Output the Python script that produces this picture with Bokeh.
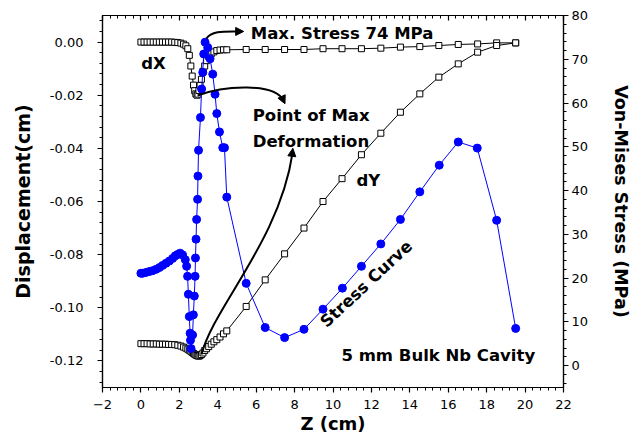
from bokeh.plotting import figure
from bokeh.models import (Range1d, LinearAxis, SingleIntervalTicker, PrintfTickFormatter,
                          Label, Arrow, NormalHead)
from bokeh.embed import file_html
from bokeh.resources import INLINE

# ---------------- data ----------------
disp_z = [0.00, 0.16, 0.32, 0.48, 0.64, 0.80, 0.96, 1.12, 1.28, 1.44, 1.60, 1.76, 1.92, 2.08,
          2.22, 2.34, 2.44, 2.52, 2.60, 2.67, 2.74, 2.80, 2.86, 2.92, 2.97, 3.02, 3.08, 3.15,
          3.23, 3.32, 3.42, 3.53, 3.66, 3.80, 3.95, 4.12, 4.30, 4.47, 5.48, 6.47, 7.48, 8.49,
          9.48, 10.47, 11.48, 12.49, 13.51, 14.52, 15.51, 16.52, 17.53, 18.52, 19.51]

dX = [0.0000, 0.0000, 0.0000, 0.0000, 0.0000, 0.0000, 0.0000, 0.0000, 0.0000, 0.0000, 0.0000,
      -0.0001, -0.0002, -0.0004, -0.0008, -0.0014, -0.0025, -0.0050, -0.0090, -0.0128, -0.0162,
      -0.0183, -0.0195, -0.0200, -0.0196, -0.0182, -0.0163, -0.0140, -0.0110, -0.0090, -0.0070,
      -0.0055, -0.0044, -0.0037, -0.0032, -0.0030, -0.0029, -0.0029, -0.0028, -0.0028, -0.0028,
      -0.0028, -0.0025, -0.0025, -0.0025, -0.0023, -0.0019, -0.0017, -0.0013, -0.0009, -0.0007,
      -0.0003, -0.0003]

dY = [-0.1135, -0.1135, -0.1135, -0.1136, -0.1136, -0.1136, -0.1137, -0.1137, -0.1137, -0.1138,
      -0.1138, -0.1139, -0.1141, -0.1144, -0.1148, -0.1152, -0.1156, -0.1160, -0.1164, -0.1168,
      -0.1172, -0.1175, -0.1178, -0.1180, -0.1181, -0.1182, -0.1180, -0.1176, -0.1170, -0.1161,
      -0.1154, -0.1146, -0.1137, -0.1128, -0.1120, -0.1110, -0.1098, -0.1087, -0.0995, -0.0895,
      -0.0797, -0.0700, -0.0600, -0.0514, -0.0424, -0.0343, -0.0264, -0.0195, -0.0132, -0.0082,
      -0.0038, -0.0013, -0.0003]

stress_z = [0.00, 0.09, 0.27, 0.44, 0.61, 0.79, 0.96, 1.13, 1.31, 1.48, 1.65, 1.79, 1.91, 2.04,
            2.17, 2.31, 2.38, 2.43, 2.47, 2.52, 2.56, 2.58, 2.61, 2.69, 2.73, 2.78, 2.82, 2.84,
            2.87, 2.90, 2.95, 2.97, 3.00, 3.10, 3.16, 3.22, 3.27, 3.34, 3.48, 3.60, 3.74, 3.86,
            3.95, 4.09, 4.26, 4.35, 4.47, 5.48, 6.47, 7.48, 8.49, 9.48, 10.49, 11.48, 12.49,
            13.51, 14.52, 15.53, 16.52, 17.51, 18.52, 19.51]

stress = [21.1, 21.1, 21.3, 21.5, 21.7, 22.0, 22.4, 22.9, 23.4, 23.9, 24.5, 25.1, 25.4, 25.7,
          25.3, 24.2, 22.7, 20.4, 16.3, 11.2, 7.4, 5.8, 3.9, 7.0, 11.6, 15.9, 20.4, 24.6, 28.9,
          33.4, 38.0, 43.3, 49.2, 56.7, 63.2, 67.0, 71.2, 73.9, 72.7, 70.1, 66.6, 62.0, 57.6,
          53.4, 49.8, 49.8, 38.5, 18.8, 8.7, 6.4, 8.3, 12.9, 17.7, 22.7, 27.8, 33.4, 39.7, 45.8,
          51.1, 49.7, 33.2, 8.5]

FONT = "DejaVu Sans"
BLUE = "#0000ff"

p = figure(width=636, height=438, output_backend="svg", toolbar_location=None,
           x_range=Range1d(-2, 22), y_range=Range1d(-0.13, 0.01),
           x_axis_location=None, y_axis_location=None,
           min_border_left=102, min_border_right=73, min_border_top=15, min_border_bottom=51)
p.extra_y_ranges = {"stress": Range1d(-5, 80)}
p.grid.visible = False
p.outline_line_color = "black"
p.outline_line_width = 1.2
p.background_fill_color = "white"
p.border_fill_color = "white"


def style(ax, inward=False):
    ax.axis_line_width = 1.2
    ax.major_tick_line_width = 1.2
    ax.minor_tick_line_width = 1
    if inward:
        ax.major_tick_in, ax.major_tick_out = 5, 0
        ax.minor_tick_in, ax.minor_tick_out = 3, 0
    else:
        ax.major_tick_in, ax.major_tick_out = 0, 5
        ax.minor_tick_in, ax.minor_tick_out = 0, 3
    ax.major_label_text_font = FONT
    ax.major_label_text_font_size = "13px"
    ax.major_label_text_color = "black"
    ax.axis_label_text_font = FONT
    ax.axis_label_text_font_size = "18px"
    ax.axis_label_text_font_style = "bold"
    ax.axis_label_text_color = "black"


xb = LinearAxis(ticker=SingleIntervalTicker(interval=2, num_minor_ticks=5),
                axis_label="Z (cm)")
style(xb)
xb.major_label_standoff = 7
xb.axis_label_standoff = 1
p.add_layout(xb, "below")

xt = LinearAxis(ticker=SingleIntervalTicker(interval=2, num_minor_ticks=5))
style(xt, inward=True)
xt.major_label_text_font_size = "8px"
xt.major_label_text_color = None
xt.major_label_standoff = 0
p.add_layout(xt, "above")

yl = LinearAxis(ticker=SingleIntervalTicker(interval=0.02, num_minor_ticks=5),
                formatter=PrintfTickFormatter(format="%.2f"),
                axis_label="Displacement(cm)")
style(yl)
yl.axis_label_text_font_size = "19px"
yl.major_label_standoff = 14
yl.axis_label_standoff = 13
p.add_layout(yl, "left")

yr = LinearAxis(y_range_name="stress",
                ticker=SingleIntervalTicker(interval=10, num_minor_ticks=5),
                axis_label="Von-Mises Stress (MPa)")
style(yr)
yr.axis_label_text_font_size = "17.5px"
yr.major_label_standoff = 3
yr.axis_label_standoff = 20
p.add_layout(yr, "right")

# ---------------- data marks ----------------
p.line(disp_z, dX, line_color="black", line_width=1)
p.scatter(disp_z, dX, marker="square", size=6, fill_color="white", line_color="black", line_width=1)
p.line(disp_z, dY, line_color="black", line_width=1)
p.scatter(disp_z, dY, marker="square", size=6, fill_color="white", line_color="black", line_width=1)
p.line(stress_z, stress, line_color=BLUE, line_width=1, y_range_name="stress")
p.scatter(stress_z, stress, marker="circle", size=8, fill_color=BLUE, line_color=BLUE,
          y_range_name="stress")

# ---------------- annotation arrows ----------------
p.bezier(x0=[3.41, 2.95, 3.15], y0=[0.0013, -0.0201, -0.1176],
         x1=[5.20, 7.45, 7.90], y1=[0.0040, -0.0222, -0.0415],
         cx0=[3.67, 4.35, 3.83], cy0=[0.0044, -0.0163, -0.0991],
         cx1=[4.35, 6.96, 7.22], cy1=[0.0040, -0.0152, -0.0747],
         line_color="black", line_width=2)

for xs, ys, xe, ye in [(5.0, 0.0040, 5.35, 0.0040),
                       (7.37, -0.0212, 7.50, -0.0232),
                       (7.85, -0.0434, 7.91, -0.0400)]:
    p.add_layout(Arrow(end=NormalHead(size=8, fill_color="black", line_color="black"),
                       x_start=xs, y_start=ys, x_end=xe, y_end=ye, line_alpha=0))


def lab(x, y, text, size="16.5px", align="left", angle=0.0):
    p.add_layout(Label(x=x, y=y, text=text, text_font=FONT, text_font_size=size,
                       text_font_style="bold", text_color="black", text_align=align,
                       text_baseline="middle", angle=angle))


lab(5.72, 0.0032, "Max. Stress 74 MPa")
lab(0.02, -0.0081, "dX")
lab(5.82, -0.0276, "Point of Max")
lab(5.82, -0.0374, "Deformation")
lab(11.22, -0.0521, "dY")
lab(11.74, -0.0910, "Stress Curve", align="center", angle=0.75)
lab(10.44, -0.1180, "5 mm Bulk Nb Cavity")

open("out.html", "w").write(file_html(p, INLINE))
